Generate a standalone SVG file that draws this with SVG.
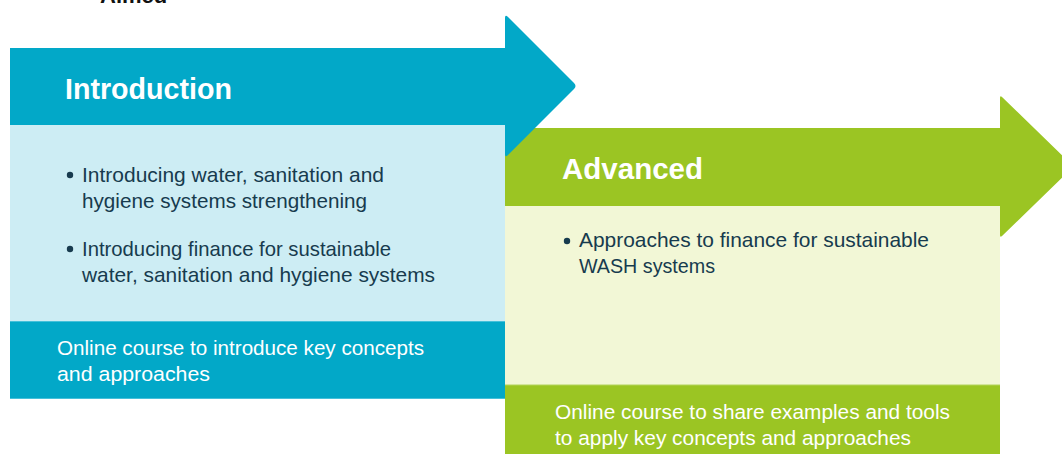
<svg xmlns="http://www.w3.org/2000/svg" width="1062" height="454" viewBox="0 0 1062 454">
  <style>
    .blue { fill: #02a8c8; }
    .lblue { fill: #cdedf4; }
    .green { fill: #9bc523; }
    .lgreen { fill: #f2f7d6; }
    .title { font-family: "Liberation Sans", Arial, sans-serif; font-weight: bold; font-size: 30px; fill: #ffffff; }
    .body { font-family: "Liberation Sans", Arial, sans-serif; font-size: 21px; fill: #173b4e; }
    .foot { font-family: "Liberation Sans", Arial, sans-serif; font-size: 20.5px; fill: #ffffff; }
    .bullet { fill: #173b4e; }
  </style>
  <rect width="1062" height="454" fill="#ffffff"/>
  <text x="100" y="3" font-family="Liberation Sans, Arial, sans-serif" font-weight="bold" font-size="22" fill="#111111">Aimed</text>

  <g id="node-advanced">
    <rect class="lgreen" x="505" y="206" width="495" height="179"/>
    <rect class="green" x="505" y="385" width="495" height="69"/>
    <line x1="505" y1="385" x2="1000" y2="385" stroke="#b3d35a" stroke-width="1"/>
    <path class="green" d="M505,128 H1000 V98 Q1000,95 1002,97 L1071,164 Q1073,167 1071,169 L1002,236 Q1000,238 1000,235 V206 H505 Z"/>
    <text class="title" x="562" y="179" textLength="141" lengthAdjust="spacingAndGlyphs">Advanced</text>
    <circle class="bullet" cx="567" cy="241" r="3.2"/>
    <text class="body" x="579" y="247" textLength="350" lengthAdjust="spacingAndGlyphs">Approaches to finance for sustainable</text>
    <text class="body" x="579" y="273" textLength="136" lengthAdjust="spacingAndGlyphs">WASH systems</text>
    <text class="foot" x="555" y="419" textLength="395" lengthAdjust="spacingAndGlyphs">Online course to share examples and tools</text>
    <text class="foot" x="555" y="445" textLength="356" lengthAdjust="spacingAndGlyphs">to apply key concepts and approaches</text>
  </g>

  <g id="node-introduction">
    <rect class="lblue" x="10" y="125" width="495" height="196"/>
    <rect class="blue" x="10" y="321" width="495" height="78"/>
    <line x1="10" y1="321.5" x2="505" y2="321.5" stroke="#45c0da" stroke-width="1"/>
    <line x1="10" y1="398.5" x2="505" y2="398.5" stroke="#45c0da" stroke-width="1"/>
    <path class="blue" d="M10,48 H505 V18 Q505,14 508,17 L574,83 Q577,86 574,89 L508,155 Q505,158 505,154 V125 H10 Z"/>
    <text class="title" x="65" y="99" textLength="167" lengthAdjust="spacingAndGlyphs">Introduction</text>
    <circle class="bullet" cx="70" cy="175" r="3.2"/>
    <text class="body" x="82" y="182" textLength="302" lengthAdjust="spacingAndGlyphs">Introducing water, sanitation and</text>
    <text class="body" x="82" y="208" textLength="285" lengthAdjust="spacingAndGlyphs">hygiene systems strengthening</text>
    <circle class="bullet" cx="70" cy="249" r="3.2"/>
    <text class="body" x="82" y="256" textLength="309" lengthAdjust="spacingAndGlyphs">Introducing finance for sustainable</text>
    <text class="body" x="82" y="282" textLength="353" lengthAdjust="spacingAndGlyphs">water, sanitation and hygiene systems</text>
    <text class="foot" x="57" y="355" textLength="367" lengthAdjust="spacingAndGlyphs">Online course to introduce key concepts</text>
    <text class="foot" x="57" y="381" textLength="153" lengthAdjust="spacingAndGlyphs">and approaches</text>
  </g>

  <g id="connectors"></g>
</svg>
